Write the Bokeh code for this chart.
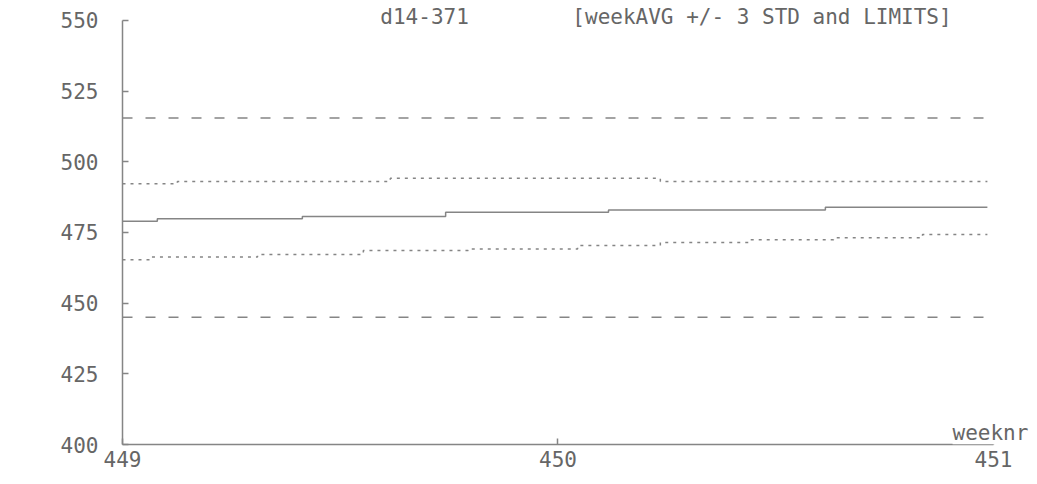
from bokeh.plotting import figure
from bokeh.models import Range1d, FixedTicker, Label, ColumnDataSource
from bokeh.embed import file_html
from bokeh.resources import INLINE

# ---- data ----
weeks_avg = [449.000, 449.080, 449.413, 449.742, 450.116, 450.614, 450.986]
week_avg = [479.0, 479.9, 480.7, 482.2, 483.0, 483.9]

weeks_upper = [449.000, 449.126, 449.615, 450.235, 450.986]
avg_plus_3std = [492.2, 493.0, 494.2, 493.0]

weeks_lower = [449.000, 449.062, 449.310, 449.553, 449.794, 450.045,
               450.235, 450.437, 450.633, 450.837, 450.986]
avg_minus_3std = [465.4, 466.3, 467.2, 468.6, 469.2, 470.4, 471.5,
                  472.4, 473.1, 474.3]

limit_weeks = [449.000, 450.986]
upper_limit = 515.5
lower_limit = 445.0

y_ticks = [400, 425, 450, 475, 500, 525, 550]
x_ticks = [449, 450, 451]

title_left = "d14-371"
title_right = "[weekAVG +/- 3 STD and LIMITS]"
x_label = "weeknr"

FONT = "DejaVu Sans Mono"
INK = "#666666"
LINE = "#858585"


def step_source(weeks, vals):
    return ColumnDataSource(dict(x=list(weeks), y=list(vals) + [vals[-1]]))


p = figure(width=1030, height=480, output_backend="svg", toolbar_location=None,
           x_range=Range1d(449, 451.085), y_range=Range1d(400, 557.07),
           min_border_left=122, min_border_right=0, min_border_top=0,
           min_border_bottom=36)
p.outline_line_color = None
p.xgrid.grid_line_color = None
p.ygrid.grid_line_color = None
p.background_fill_color = "white"
p.border_fill_color = "white"

# limits (dashed)
p.line(x=limit_weeks, y=[upper_limit] * len(limit_weeks), line_color=LINE,
       line_width=1.5, line_dash="10 13")
p.line(x=limit_weeks, y=[lower_limit] * len(limit_weeks), line_color=LINE,
       line_width=1.5, line_dash="10 13")

# avg +/- 3 std (dotted)
p.step(x="x", y="y", source=step_source(weeks_upper, avg_plus_3std), mode="after",
       line_color=LINE, line_width=1.5, line_dash="3 5")
p.step(x="x", y="y", source=step_source(weeks_lower, avg_minus_3std), mode="after",
       line_color=LINE, line_width=1.5, line_dash="3 5")

# week average (solid)
p.step(x="x", y="y", source=step_source(weeks_avg, week_avg), mode="after",
       line_color=LINE, line_width=1.5)

# axes
for ax in (p.xaxis, p.yaxis):
    ax.axis_line_color = LINE
    ax.axis_line_width = 1.5
    ax.major_tick_line_color = LINE
    ax.major_tick_line_width = 1.5
    ax.major_tick_out = 0
    ax.major_tick_in = 6
    ax.minor_tick_line_color = None
    ax.major_label_text_font = FONT
    ax.major_label_text_font_size = "21px"
    ax.major_label_text_color = INK

p.yaxis.ticker = FixedTicker(ticks=y_ticks)
p.yaxis.bounds = (400, 550)
p.yaxis.major_label_standoff = 24
p.xaxis.ticker = FixedTicker(ticks=x_ticks)
p.xaxis.bounds = (449, 451)
p.xaxis.major_label_standoff = 6

# titles
p.add_layout(Label(x=449.592, y=550, text=title_left, text_font=FONT,
                   text_font_size="21px", text_color=INK, text_baseline="middle",
                   y_offset=3))
p.add_layout(Label(x=450.033, y=550, text=title_right, text_font=FONT,
                   text_font_size="21px", text_color=INK, text_baseline="middle",
                   y_offset=3))
p.add_layout(Label(x=450.906, y=400, text=x_label, text_font=FONT,
                   text_font_size="21px", text_color=INK, text_baseline="bottom",
                   y_offset=0, background_fill_color="white"))

open("out.html", "w").write(file_html(p, INLINE))
